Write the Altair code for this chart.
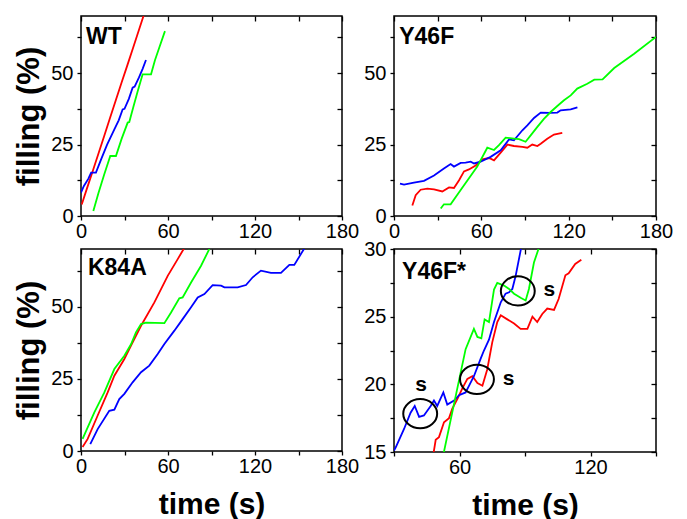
import altair as alt
import pandas as pd

FONT = "Liberation Sans"
COLOR_DOMAIN = ["red", "green", "blue"]
COLOR_RANGE = ["#ff0000", "#00ff00", "#0000ff"]

# ---------------- WT ----------------
wt_red_t = [0.5, 4, 8, 12, 16, 20, 24, 28, 32, 36, 40, 44]
wt_red_f = [4, 9.5, 15.6, 21.8, 28, 34.3, 40.5, 46.7, 52.8, 59, 65.2, 71.4]
wt_blue_t = [0, 2, 5, 7, 10.3, 14, 18, 23, 26, 28.7, 30, 33, 35.6, 37, 40, 42.5, 44.8]
wt_blue_f = [8.2, 10.5, 13, 15.2, 15.2, 20, 25, 30.3, 33.5, 37.3, 37.5, 41, 44.9, 45.3, 48.5, 51.5, 54.6]
wt_green_t = [8.5, 12, 16, 20.2, 24.1, 28, 32.2, 33.3, 36, 39, 42.5, 48.3, 51, 54, 57.9]
wt_green_f = [1.75, 8, 14.5, 21, 21, 27, 32.7, 32.9, 38, 43.5, 49.6, 49.6, 54.5, 59, 64.7]

# ---------------- Y46F ----------------
y_blue_t = [4.1, 6.9, 13.7, 20.6, 27.5, 34.3, 38.9, 41.2, 45.8, 49.2, 52.7, 55, 59.5, 66.4, 73.3,
            79, 82.4, 88.2, 91.6, 96.2, 100.8, 107.6, 112.2, 114.5, 121.4, 126]
y_blue_f = [11.3, 11, 11.7, 12.3, 14.2, 16.6, 18.2, 17.3, 18.6, 18.7, 19, 18.4, 19, 20.7, 23,
            26.8, 26.5, 30, 31.7, 34.3, 36.2, 36.1, 36.2, 37, 37.3, 38]
y_red_t = [12.6, 14.9, 18.3, 22.9, 27.5, 33.2, 37.8, 41.2, 44.7, 48.1, 51.5, 56.1, 60.7, 65.3, 68.7,
           73.3, 77.9, 82.4, 88.2, 91.6, 95, 98.5, 100.8, 105.3, 109.9, 115.6]
y_red_f = [3.7, 7.3, 9.2, 9.6, 9.3, 8.6, 10, 9.8, 12.5, 15.6, 16.3, 17.7, 19.8, 20.3, 19.5,
           22.2, 25, 24.5, 24.2, 23.9, 25, 24.5, 25.3, 27, 28.5, 29.1]
y_green_t = [32.1, 34.3, 38.9, 45.8, 57.2, 64.1, 68.7, 72.1, 76.7, 82.4, 85.9, 90.4, 93.9, 98.5, 103,
             107.6, 112.2, 116.8, 121.4, 125.9, 132.8, 137.6, 143.3, 151.3, 165, 180]
y_green_f = [2.6, 4.1, 4.1, 9.1, 17.3, 23.9, 23.1, 24.8, 27.4, 27.1, 26.9, 26, 28.2, 31.2, 34,
             36.4, 38.5, 40.5, 42.2, 44.6, 46.3, 47.7, 47.8, 51.8, 56.8, 62.7]

# ---------------- K84A ----------------
k_red_t = [1.1, 4.6, 11.5, 18.4, 23, 29.9, 34.5, 41.4, 50.6, 59.8, 66.7, 72]
k_red_f = [1.4, 4.2, 12.3, 20.3, 26.1, 31.9, 36.5, 43.4, 51.5, 60.7, 66.5, 71]
k_green_t = [1.1, 9.2, 16.1, 23, 29.9, 34.5, 37.9, 41.4, 44.8, 57.5, 62.1, 67.8, 70.1, 75.9, 82.8, 89]
k_green_f = [4.2, 13.4, 20.3, 28.4, 33, 37, 41.1, 44, 44.5, 44.3, 48, 52.9, 53.2, 58.4, 64.2, 70.5]
k_blue_t = [6.4, 11.5, 19.5, 23, 26.4, 29.9, 35.6, 41.4, 47.1, 52.9, 57.5, 64.4, 70.1, 75.9, 80.5,
            85.1, 90.8, 96.6, 98.9, 108, 113.8, 118.4, 124.1, 131, 137.9, 143.7, 147.1, 155]
k_blue_f = [2.4, 7.6, 13.9, 14.3, 18, 19.8, 23.8, 27.3, 29.6, 33.6, 37.1, 41.7, 45.7, 49.8, 53.2,
            54.4, 57.5, 57.3, 56.7, 56.7, 57.5, 60.2, 62.5, 61.7, 61.7, 64.5, 64.5, 71]

# ---------------- Y46F* (zoom) ----------------
z_blue_t = [30, 30.8, 34.6, 37.6, 39.5, 41.5, 43.7, 46.8, 48.3, 49.8, 52.6, 54.4, 57.5, 59.8, 62.8,
            64.4, 66.6, 69.7, 71.2, 73.5, 75.8, 78.9, 81.1, 82.7, 84.2, 85.7, 88.5]
z_blue_f = [15.1, 15.35, 16.7, 17.9, 18.4, 17.6, 17.7, 18.4, 18.8, 18.4, 19.4, 18.5, 18.8, 19.2, 19.4,
            19.9, 20.6, 21.9, 22.5, 23.3, 24.6, 26.06, 26.7, 26.8, 27.05, 28, 30.3]
z_red_t = [48, 49.1, 50.6, 52.9, 55.2, 56.7, 59, 61.3, 63.6, 65.9, 68.2, 70.5, 72.7, 75, 77.3,
           78.9, 81.9, 85, 88, 91.1, 93.4, 95.6, 97.9, 100.2, 103.3, 105.4, 108.5, 110, 113, 115.8]
z_red_f = [14.8, 15.9, 16.1, 17.2, 17.5, 18.2, 18.9, 19.7, 20.4, 20.6, 20.1, 19.9, 21.1, 23.1, 24.6,
           25.1, 24.8, 24.5, 24.1, 24.1, 25, 24.6, 25.2, 25.6, 25.5, 26.3, 28.06, 28.2, 28.9, 29.2]
z_green_t = [52.6, 59, 62.8, 66.6, 68.2, 70, 71.5, 73.5, 75.8, 77.3, 80.4, 82.7, 85, 88, 90.3, 91.8, 94.1, 96.8]
z_green_f = [14.8, 19.7, 22.6, 24.1, 23.5, 23.4, 24.8, 24.6, 27.0, 27.5, 27.3, 27.05, 26.7, 26.4, 26.2,
             27.05, 29.0, 30.3]

# annotations in the zoomed panel
circle_t = [42, 68, 86.7]
circle_f = [17.83, 20.37, 26.9]
s_t = [42.4, 82.5, 101.2]
s_f = [19.93, 20.4, 26.95]

panel_names = ["WT", "Y46F", "K84A", "Y46F*"]
panel_label_t = [3.4, 3.6, 4.8, 33.7]
panel_label_f = [60.3, 60.3, 60.9, 27.8]

ELLIPSE = "M -1 0 A 1 0.86 0 1 0 1 0 A 1 0.86 0 1 0 -1 0 Z"


def make_df(parts):
    rows = []
    for name, ts, fs in parts:
        for i, (t, f) in enumerate(zip(ts, fs)):
            rows.append({"t": t, "f": f, "s": name, "i": i})
    return pd.DataFrame(rows)


def panel(parts, xdom, ydom, xticks, yticks, xlab, ylab, idx, width, height,
          ytitle, xtitle, extras=False):
    xs = alt.Scale(domain=xdom, nice=False, zero=False)
    ys = alt.Scale(domain=ydom, nice=False, zero=False)
    common = dict(grid=False, domain=False, tickColor="black", tickWidth=1.3,
                  labelFont=FONT, labelFontSize=20, labelColor="black",
                  labelFlush=False, labelOverlap=False,
                  titleFont=FONT, titleFontWeight="bold", titleColor="black")
    xkw = dict(common, orient="bottom", values=xticks, labelExpr=xlab, tickSize=4,
               labelPadding=1, titlePadding=13, titleFontSize=30)
    xkw["title"] = "time (s)" if xtitle else None
    ykw = dict(common, orient="left", values=yticks, labelExpr=ylab, tickSize=4,
               labelPadding=4, titlePadding=5, titleFontSize=31)
    ykw["title"] = "filling (%)" if ytitle else None

    lines = alt.Chart(make_df(parts)).mark_line(clip=True, strokeWidth=1.8).encode(
        x=alt.X("t:Q", scale=xs, axis=alt.Axis(**xkw)),
        y=alt.Y("f:Q", scale=ys, axis=alt.Axis(**ykw)),
        color=alt.Color("s:N", scale=alt.Scale(domain=COLOR_DOMAIN, range=COLOR_RANGE), legend=None),
        order="i:Q",
    )

    lab_df = pd.DataFrame({"t": [panel_label_t[idx]], "f": [panel_label_f[idx]],
                           "txt": [panel_names[idx]]})
    mirror = dict(grid=False, domain=False, labels=False, tickColor="black",
                  tickWidth=1.3, tickSize=5, offset=-5, title=None)
    label = alt.Chart(lab_df).mark_text(
        align="left", baseline="alphabetic", font=FONT, fontSize=23,
        fontWeight="bold", color="black"
    ).encode(
        x=alt.X("t:Q", scale=xs, axis=alt.Axis(orient="top", values=xticks, **mirror)),
        y=alt.Y("f:Q", scale=ys, axis=alt.Axis(orient="right", values=yticks, **mirror)),
        text="txt:N",
    )
    layers = [lines, label]
    if extras:
        cdf = pd.DataFrame({"t": circle_t, "f": circle_f})
        sdf = pd.DataFrame({"t": s_t, "f": s_f, "txt": ["s"] * len(s_t)})
        circ = alt.Chart(cdf).mark_point(
            shape=ELLIPSE, filled=False, stroke="black", strokeWidth=2, size=1150, opacity=1
        ).encode(
            x=alt.X("t:Q", scale=xs, axis=None),
            y=alt.Y("f:Q", scale=ys, axis=None),
        )
        stext = alt.Chart(sdf).mark_text(
            font=FONT, fontSize=21, fontWeight="bold", color="black",
            align="center", baseline="middle"
        ).encode(
            x=alt.X("t:Q", scale=xs, axis=None),
            y=alt.Y("f:Q", scale=ys, axis=None),
            text="txt:N",
        )
        layers += [circ, stext]
    return alt.layer(*layers).properties(width=width, height=height).resolve_axis(
        x="independent", y="independent"
    )


XT = [0, 30, 60, 90, 120, 150, 180]
YT = [0, 12.5, 25, 37.5, 50, 62.5]
XL = "datum.value % 60 == 0 ? datum.label : ''"
YL = "datum.value % 25 == 0 ? datum.label : ''"

p1 = panel([("red", wt_red_t, wt_red_f), ("blue", wt_blue_t, wt_blue_f), ("green", wt_green_t, wt_green_f)],
           [0, 180], [0, 70], XT, YT, XL, YL, 0, 261, 200, True, False)
p2 = panel([("red", y_red_t, y_red_f), ("blue", y_blue_t, y_blue_f), ("green", y_green_t, y_green_f)],
           [0, 180], [0, 70], XT, YT, XL, YL, 1, 262, 200, False, False)
p3 = panel([("red", k_red_t, k_red_f), ("blue", k_blue_t, k_blue_f), ("green", k_green_t, k_green_f)],
           [0, 180], [0, 70], XT, YT, XL, YL, 2, 261, 202, True, True)
p4 = panel([("red", z_red_t, z_red_f), ("blue", z_blue_t, z_blue_f), ("green", z_green_t, z_green_f)],
           [30, 150], [15, 30], [30, 60, 90, 120, 150], [15, 17.5, 20, 22.5, 25, 27.5, 30],
           "datum.value % 60 == 0 ? datum.label : ''",
           "datum.value % 5 == 0 ? datum.label : ''", 3, 262, 203, False, True, extras=True)

chart = alt.concat(
    p1, p2, p3, p4, columns=2, spacing={"row": 33, "column": 52}, bounds="flush"
).properties(
    padding={"left": 5, "top": 6, "right": 5, "bottom": 5},
    background="white",
).configure_view(stroke="black", strokeWidth=1.5)

chart.save("out.html", embed_options={"renderer": "svg", "actions": False})
